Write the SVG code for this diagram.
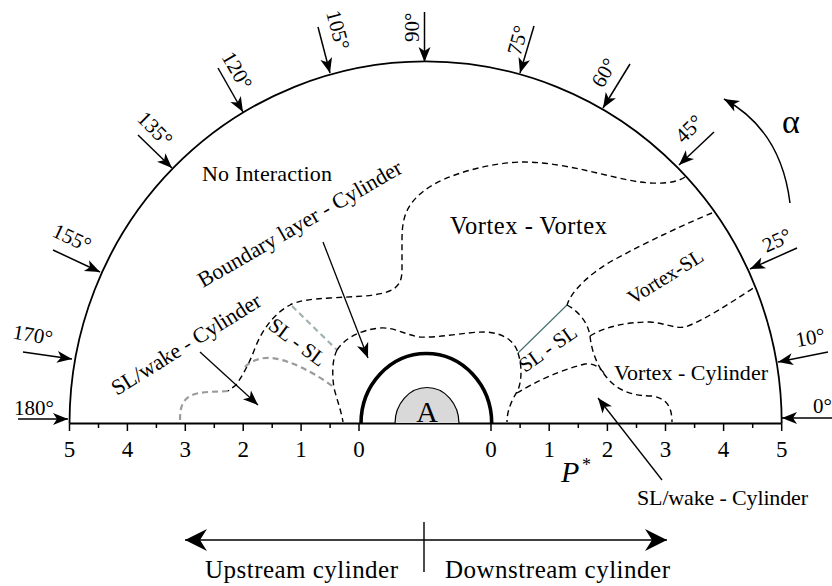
<svg xmlns="http://www.w3.org/2000/svg" width="832" height="586" viewBox="0 0 832 586">
<style>
text{font-family:"Liberation Serif","Times New Roman",serif;fill:#000}
.ang{font-size:21px}
.ax{font-size:23px;text-anchor:middle}
.lbl{font-size:22px}
.arr{stroke:#000;stroke-width:1.5;fill:none;marker-end:url(#ah)}
.dash{fill:none;stroke:#000;stroke-width:1.4;stroke-dasharray:6 4}
.gdash{fill:none;stroke:#8a8a8a;stroke-width:2.2;stroke-dasharray:6 4;opacity:0.85}
.tick{stroke:#000;stroke-width:1.5}
</style>
<defs>
<marker id="ah" viewBox="-16 -7 17 14" refX="0" refY="0" markerWidth="17" markerHeight="14" orient="auto" markerUnits="userSpaceOnUse">
<path d="M0,0 L-15,-6 L-11,0 L-15,6 Z" fill="#000"/>
</marker>
<marker id="ahb" viewBox="-23 -12 24 24" refX="0" refY="0" markerWidth="24" markerHeight="24" orient="auto-start-reverse" markerUnits="userSpaceOnUse">
<path d="M0,0 L-22,-11 L-15,0 L-22,11 Z" fill="#000"/>
</marker>
</defs>
<rect width="832" height="586" fill="#fff"/>

<g id="frame">
<path d="M69.5,423.5 A356,362 0 0 1 781.7,423.5" fill="none" stroke="#000" stroke-width="1.8"/>
<line x1="69.5" y1="423.5" x2="781.7" y2="423.5" stroke="#000" stroke-width="1.8"/>
<path d="M361,423.5 A65.3,70 0 0 1 491.7,423.5" fill="none" stroke="#000" stroke-width="3.6"/>
</g>

<g id="cylinder-A">
<path d="M395,423.5 A32,36 0 0 1 459,423.5 Z" fill="#d9d9d9" stroke="#000" stroke-width="1.2"/>
<text x="427" y="422" style="font-size:30px" text-anchor="middle">A</text>
</g>

<g id="axis">
<g class="tick">
<line x1="69.5" y1="423.5" x2="69.5" y2="431"/><line x1="127.4" y1="423.5" x2="127.4" y2="431"/><line x1="185.3" y1="423.5" x2="185.3" y2="431"/><line x1="243.2" y1="423.5" x2="243.2" y2="431"/><line x1="301.1" y1="423.5" x2="301.1" y2="431"/><line x1="359" y1="423.5" x2="359" y2="431"/>
<line x1="98.5" y1="423.5" x2="98.5" y2="428"/><line x1="156.4" y1="423.5" x2="156.4" y2="428"/><line x1="214.3" y1="423.5" x2="214.3" y2="428"/><line x1="272.2" y1="423.5" x2="272.2" y2="428"/><line x1="330.1" y1="423.5" x2="330.1" y2="428"/>
<line x1="491" y1="423.5" x2="491" y2="431"/><line x1="549.2" y1="423.5" x2="549.2" y2="431"/><line x1="607.4" y1="423.5" x2="607.4" y2="431"/><line x1="665.5" y1="423.5" x2="665.5" y2="431"/><line x1="723.6" y1="423.5" x2="723.6" y2="431"/><line x1="781.7" y1="423.5" x2="781.7" y2="431"/>
<line x1="520.1" y1="423.5" x2="520.1" y2="428"/><line x1="578.3" y1="423.5" x2="578.3" y2="428"/><line x1="636.5" y1="423.5" x2="636.5" y2="428"/><line x1="694.6" y1="423.5" x2="694.6" y2="428"/><line x1="752.7" y1="423.5" x2="752.7" y2="428"/>
</g>
<text class="ax" x="69.5" y="457">5</text><text class="ax" x="127.4" y="457">4</text><text class="ax" x="185.3" y="457">3</text><text class="ax" x="243.2" y="457">2</text><text class="ax" x="301.1" y="457">1</text><text class="ax" x="359" y="457">0</text>
<text class="ax" x="491" y="457">0</text><text class="ax" x="549.2" y="457">1</text><text class="ax" x="607.4" y="457">2</text><text class="ax" x="665.5" y="457">3</text><text class="ax" x="723.6" y="457">4</text><text class="ax" x="781.7" y="457">5</text>
<text x="561" y="482" style="font-size:30px;font-style:italic">P</text>
<text x="582" y="471" style="font-size:18px">*</text>
</g>

<g id="angle-arrows">
<line class="arr" x1="424.5" y1="12" x2="424.5" y2="62"/>
<line class="arr" x1="318" y1="27" x2="330" y2="73"/>
<line class="arr" x1="218" y1="68" x2="243" y2="112"/>
<line class="arr" x1="138" y1="135" x2="172" y2="168"/>
<line class="arr" x1="53" y1="250" x2="100" y2="272"/>
<line class="arr" x1="23" y1="352" x2="72" y2="359"/>
<line class="arr" x1="18" y1="419" x2="68" y2="419"/>
<line class="arr" x1="534" y1="26" x2="520" y2="73"/>
<line class="arr" x1="630" y1="64" x2="603" y2="108"/>
<line class="arr" x1="714" y1="132" x2="679" y2="165"/>
<line class="arr" x1="797" y1="248" x2="750" y2="269"/>
<line class="arr" x1="828" y1="352" x2="778" y2="362"/>
<line class="arr" x1="840" y1="418" x2="782" y2="418"/>
</g>

<g id="angle-labels" class="ang">
<text class="ang" transform="translate(418.5,42) rotate(-90)">90°</text>
<text class="ang" transform="translate(326,12.5) rotate(75)">105°</text>
<text class="ang" transform="translate(221,56.7) rotate(60)">120°</text>
<text class="ang" transform="translate(136,119.8) rotate(45)">135°</text>
<text class="ang" transform="translate(51,235.8) rotate(25)">155°</text>
<text class="ang" transform="translate(12,338.4) rotate(10)">170°</text>
<text class="ang" x="14" y="415">180°</text>
<text class="ang" transform="translate(520.5,56.3) rotate(-75)">75°</text>
<text class="ang" transform="translate(602.8,89) rotate(-60)">60°</text>
<text class="ang" transform="translate(683.6,144.2) rotate(-45)">45°</text>
<text class="ang" transform="translate(766.4,252.9) rotate(-25)">25°</text>
<text class="ang" transform="translate(797,347) rotate(-10)">10°</text>
<text class="ang" x="813" y="413">0°</text>
</g>

<g id="alpha">
<path d="M790,203 Q781,130 724,99" class="arr"/>
<text x="782" y="133" style="font-size:34px">α</text>
</g>

<g id="connectors">
<path class="dash" d="M685,177 C675,184 655,184 640,182 C610,178 570,163 525,162 C490,162 445,175 425,190 C405,205 402,220 402,240 L402,272 C401,290 390,293 365,296 L330,298 C310,299 297,301 290,305 C275,313 263,328 255,348 C250,362 243,375 236,385 L228,391"/>
<path class="gdash" d="M228,391 C215,392 200,391 190,396 C180,402 180,412 180,423"/>
<path class="gdash" d="M292,306 L337,350" style="stroke:#8fa3a3"/>
<path class="gdash" d="M245,367 C252,360 262,357 272,358 C290,360 315,373 335,388"/>
<path class="dash" d="M337,350 C332,360 332,375 334,388 C337,400 341,410 343,422"/>
<path class="dash" d="M337,350 C345,338 360,330 380,328 C395,327 405,335 420,337 C440,338 465,332 485,332 C505,333 515,342 518,353"/>
<path class="dash" d="M712,213 C690,222 650,240 610,262 C590,274 572,290 567,305"/>
<path d="M567,305 L518,353" fill="none" stroke="#3f6f6a" stroke-width="1.1"/>
<path class="dash" d="M567,305 C578,311 588,322 590,336"/>
<path class="dash" d="M590,336 C605,327 625,322 650,322 C665,323 675,329 685,327 C705,320 730,303 755,287"/>
<path class="dash" d="M590,336 C592,355 600,372 612,383 C622,392 635,396 652,396 C665,398 672,405 672,422"/>
<path class="dash" d="M517,393 C535,382 560,370 585,364 C595,363 600,368 604,373"/>
<path class="dash" d="M518,353 C522,365 522,380 518,390 C512,400 507,410 507,422"/>
<line class="arr" x1="323" y1="242" x2="368" y2="358" style="stroke-width:1.3"/>
<line class="arr" x1="200" y1="352" x2="258" y2="405" style="stroke-width:1.3"/>
<line class="arr" x1="662" y1="480" x2="598" y2="398" style="stroke-width:1.3"/>
</g>

<g id="region-labels">
<text class="lbl" x="202" y="181" textLength="130">No Interaction</text>
<text x="450" y="234" style="font-size:24.5px" textLength="157">Vortex - Vortex</text>
<text class="lbl" transform="translate(203,288) rotate(-30)" textLength="232">Boundary layer - Cylinder</text>
<text class="lbl" transform="translate(117,396) rotate(-32)" textLength="172">SL/wake - Cylinder</text>
<text transform="translate(267,328) rotate(37)" style="font-size:21px">SL - SL</text>
<text transform="translate(525,373) rotate(-35)" style="font-size:21px">SL - SL</text>
<text transform="translate(633,305) rotate(-32)" style="font-size:20.5px">Vortex-SL</text>
<text class="lbl" x="614" y="380" textLength="154">Vortex - Cylinder</text>
<text class="lbl" x="637" y="505" textLength="171">SL/wake - Cylinder</text>
</g>

<g id="bottom">
<line x1="185" y1="540" x2="667" y2="540" stroke="#000" stroke-width="1.6" marker-start="url(#ahb)" marker-end="url(#ahb)"/>
<line x1="424" y1="522" x2="424" y2="572" stroke="#000" stroke-width="1.4"/>
<text x="205" y="578" style="font-size:25px" textLength="193">Upstream cylinder</text>
<text x="445" y="578" style="font-size:25px" textLength="225">Downstream cylinder</text>
</g>
</svg>
